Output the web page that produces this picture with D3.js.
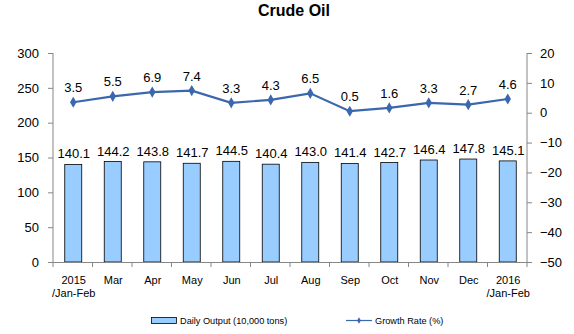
<!DOCTYPE html>
<html>
<head>
<meta charset="utf-8">
<script src="https://cdn.jsdelivr.net/npm/d3@7"></script>
<style>
  html, body { margin: 0; padding: 0; background: #fff; }
  svg { display: block; font-family: "Liberation Sans", Arial, sans-serif; }
</style>
</head>
<body>
<svg id="chart" width="574" height="334"></svg>
<script>
// Monthly crude oil figures
const categories = ["2015\n/Jan-Feb", "Mar", "Apr", "May", "Jun", "Jul", "Aug", "Sep", "Oct", "Nov", "Dec", "2016\n/Jan-Feb"];
const dailyOutput = [140.1, 144.2, 143.8, 141.7, 144.5, 140.4, 143.0, 141.4, 142.7, 146.4, 147.8, 145.1];
const growthRate = [3.5, 5.5, 6.9, 7.4, 3.3, 4.3, 6.5, 0.5, 1.6, 3.3, 2.7, 4.6];
const leftTicks = [0, 50, 100, 150, 200, 250, 300];
const rightTicks = [-50, -40, -30, -20, -10, 0, 10, 20];

const svg = d3.select("#chart");
const margin = { left: 53, right: 47, top: 53, bottom: 72 };
const W = 574, H = 334;
const x0 = margin.left, x1 = W - margin.right;
const y0 = H - margin.bottom, y1 = margin.top;

const x = d3.scaleBand().domain(d3.range(categories.length)).range([x0, x1]).padding(0);
const yL = d3.scaleLinear().domain([0, 300]).range([y0, y1]);
const yR = d3.scaleLinear().domain([-50, 20]).range([y0, y1]);

const barColor = "#99ccff";
const lineColor = "#3a67ad";
const axisColor = "#868686";

// Title
svg.append("text").attr("x", 294).attr("y", 16).attr("text-anchor", "middle")
  .attr("font-size", 16).attr("font-weight", "bold").text("Crude Oil");

// Left and right value axes
const axL = svg.append("g").attr("transform", `translate(${x0},0)`)
  .call(d3.axisLeft(yL).tickValues(leftTicks).tickSize(5).tickPadding(9));
const axR = svg.append("g").attr("transform", `translate(${x1},0)`)
  .call(d3.axisRight(yR).tickValues(rightTicks).tickSize(5).tickPadding(8));
[axL, axR].forEach(g => {
  g.select(".domain").attr("stroke", axisColor).attr("d", `M0,${y1}V${y0}`);
  g.selectAll(".tick line").attr("stroke", axisColor);
  g.selectAll(".tick text").attr("font-size", 13).attr("fill", "#000")
    .attr("font-family", "Liberation Sans, Arial, sans-serif");
});

// Bars
const barW = 17;
svg.append("g").selectAll("rect").data(dailyOutput).join("rect")
  .attr("x", (d, i) => x(i) + x.bandwidth() / 2 - barW / 2 + 0.5)
  .attr("y", d => yL(d))
  .attr("width", barW)
  .attr("height", d => y0 - yL(d))
  .attr("fill", barColor)
  .attr("stroke", "#000")
  .attr("stroke-width", 0.8);

// Bottom axis line with ticks at category boundaries
const bottom = svg.append("g");
bottom.append("line").attr("x1", x0).attr("x2", x1).attr("y1", y0 + 0.5).attr("y2", y0 + 0.5)
  .attr("stroke", axisColor);
bottom.selectAll("line.tk").data(d3.range(categories.length + 1)).join("line")
  .attr("class", "tk")
  .attr("x1", i => x0 + i * x.bandwidth()).attr("x2", i => x0 + i * x.bandwidth())
  .attr("y1", y0).attr("y2", y0 + 5).attr("stroke", axisColor);

// Category labels
const catG = svg.append("g");
categories.forEach((c, i) => {
  const cxl = x(i) + x.bandwidth() / 2 + 1;
  const t = catG.append("text").attr("x", cxl).attr("y", y0 + 22)
    .attr("text-anchor", "middle").attr("font-size", 11).attr("fill", "#000");
  c.split("\n").forEach((line, k) => {
    t.append("tspan").attr("x", cxl).attr("dy", k === 0 ? 0 : 13).text(line);
  });
});

// Bar value labels
svg.append("g").selectAll("text").data(dailyOutput).join("text")
  .attr("x", (d, i) => x(i) + x.bandwidth() / 2 + 1)
  .attr("y", d => yL(d) - 6)
  .attr("text-anchor", "middle").attr("font-size", 13).attr("fill", "#000")
  .text(d => d.toFixed(1));

// Growth rate line with diamond markers
const cx = i => x(i) + x.bandwidth() / 2 + 0.5;
svg.append("path").datum(growthRate)
  .attr("d", d3.line().x((d, i) => cx(i)).y(d => yR(d)))
  .attr("fill", "none").attr("stroke", lineColor).attr("stroke-width", 2.2);
const diamond = d3.symbol().type(d3.symbolDiamond).size(36);
svg.append("g").selectAll("path").data(growthRate).join("path")
  .attr("transform", (d, i) => `translate(${cx(i)},${yR(d)})`)
  .attr("d", diamond).attr("fill", lineColor);

// Growth rate labels
svg.append("g").selectAll("text").data(growthRate).join("text")
  .attr("x", (d, i) => cx(i))
  .attr("y", d => yR(d) - 10)
  .attr("text-anchor", "middle").attr("font-size", 13).attr("fill", "#000")
  .text(d => d.toFixed(1));

// Legend
const leg = svg.append("g").attr("font-size", 9.2).attr("fill", "#000");
leg.append("rect").attr("x", 151.5).attr("y", 317.5).attr("width", 25).attr("height", 6)
  .attr("fill", barColor).attr("stroke", "#000").attr("stroke-width", 0.8);
leg.append("text").attr("x", 180).attr("y", 324).text("Daily Output (10,000 tons)");
leg.append("line").attr("x1", 346).attr("x2", 372).attr("y1", 320.5).attr("y2", 320.5)
  .attr("stroke", lineColor).attr("stroke-width", 1.2);
leg.append("path").attr("transform", "translate(359,320.5)")
  .attr("d", d3.symbol().type(d3.symbolDiamond).size(12)).attr("fill", lineColor);
leg.append("text").attr("x", 375).attr("y", 324).text("Growth Rate (%)");
</script>
</body>
</html>
